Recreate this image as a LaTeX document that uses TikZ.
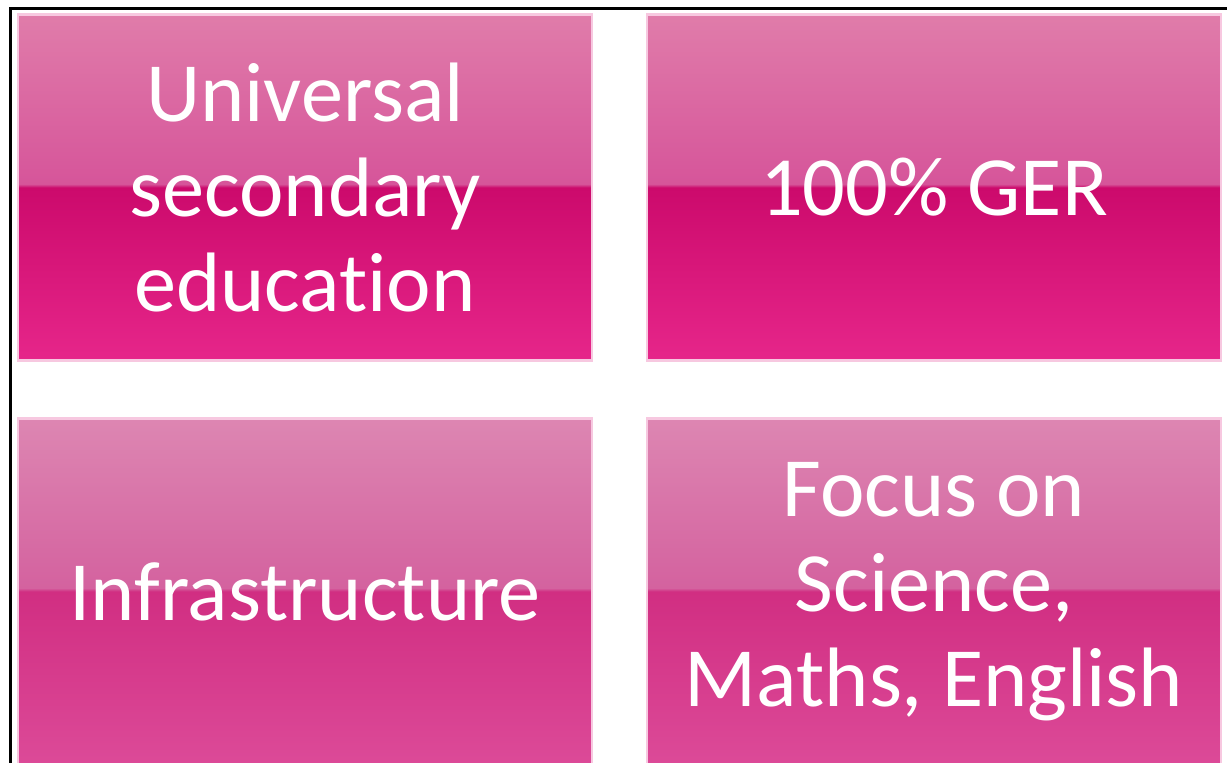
\documentclass[tikz,border=0pt]{standalone}
\usepackage{fontspec}
\setmainfont{Carlito}[Ligatures=NoCommon]
\usepackage{tikz}

\definecolor{pinktopA}{HTML}{E07CAA}
\definecolor{pinktopB}{HTML}{D6559A}
\definecolor{pinktopC}{HTML}{CC0A6C}
\definecolor{pinktopD}{HTML}{E6268A}
\definecolor{pinkbotA}{HTML}{DD86B2}
\definecolor{pinkbotB}{HTML}{D4629F}
\definecolor{pinkbotC}{HTML}{D12E82}
\definecolor{pinkbotD}{HTML}{DC4A98}
\definecolor{pinkrim}{HTML}{F7C8E0}

\pgfdeclareverticalshading{glossytop}{100bp}{%
  color(0bp)=(pinktopD); color(25bp)=(pinktopD); color(50bp)=(pinktopC);
  color(50.5bp)=(pinktopB); color(75bp)=(pinktopA); color(100bp)=(pinktopA)}
\pgfdeclareverticalshading{glossybot}{100bp}{%
  color(0bp)=(pinkbotD); color(25bp)=(pinkbotD); color(50bp)=(pinkbotC);
  color(50.5bp)=(pinkbotB); color(75bp)=(pinkbotA); color(100bp)=(pinkbotA)}

\begin{document}
\begin{tikzpicture}[x=0.02cm,y=0.02cm,
    tile/.style={draw=pinkrim,line width=1.2pt,inner sep=0pt,
      minimum width=11.48cm,minimum height=6.92cm,
      text=white,align=center,font=\fontsize{48}{54}\selectfont}]
    \useasboundingbox (0,0) rectangle (1227,763);%
    \foreach \n/\x/\y/\s/\t in {%
        edu/305/575.5/glossytop/{Universal\\secondary\\education},%
        ger/934/575.5/glossytop/{100\% GER},%
        infra/305/171.5/glossybot/{Infrastructure},%
        focus/934/171.5/glossybot/{Focus on\\Science,\\Maths, English}} {%
      \node[tile,shading=\s] at (\x,\y) (\n) {\t};%
    };%
    % frame on the top and left
    \draw[line width=2.2pt,line cap=rect] (10.5,0) -- (10.5,754.5) -- (1227,754.5);%
  \end{tikzpicture}
\end{document}
